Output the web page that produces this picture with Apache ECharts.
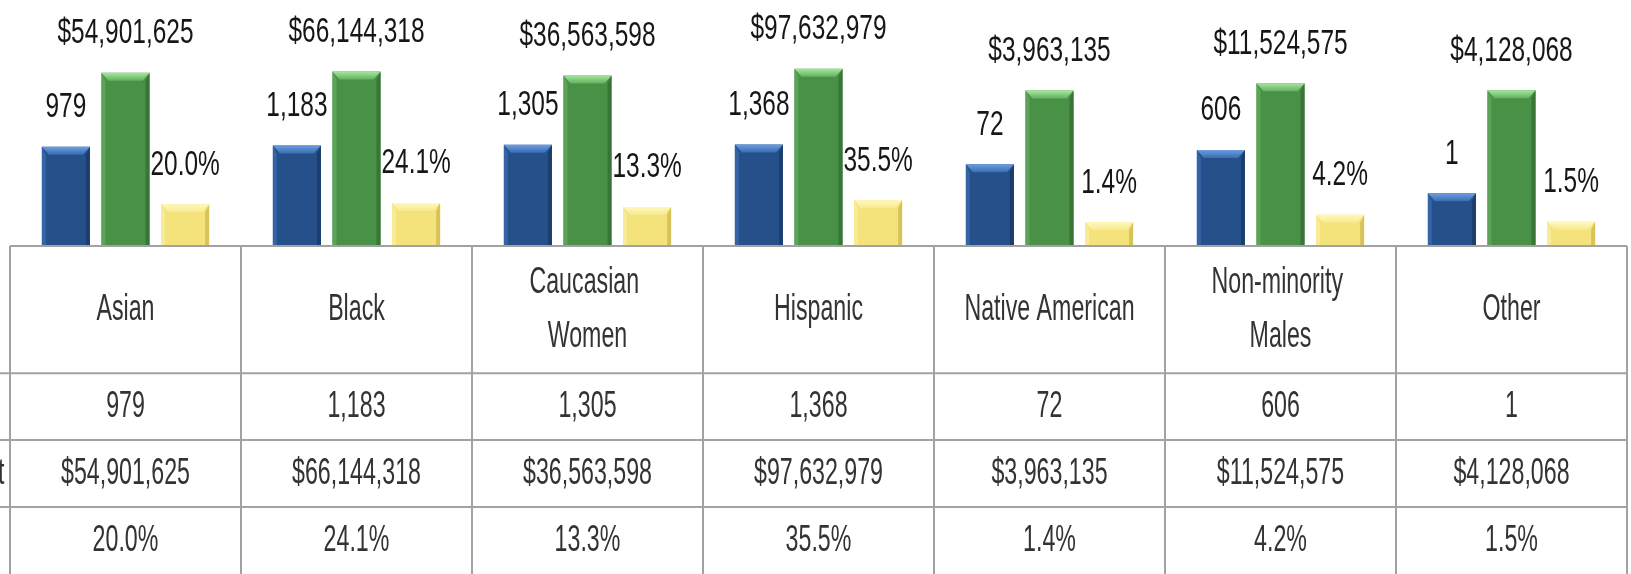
<!DOCTYPE html>
<html><head><meta charset="utf-8">
<script src="https://cdn.jsdelivr.net/npm/echarts@6/dist/echarts.min.js"></script>
<style>html,body{margin:0;padding:0;background:#fff;overflow:hidden}#c{width:1631px;height:574px}</style>
</head><body><div id="c"></div>
<script>
// ---- data ----
const categories = ['Asian', 'Black', 'Caucasian Women', 'Hispanic', 'Native American', 'Non-minority Males', 'Other'];
const counts = [979, 1183, 1305, 1368, 72, 606, 1];
const amounts = [54901625, 66144318, 36563598, 97632979, 3963135, 11524575, 4128068];
const shares = [0.200, 0.241, 0.133, 0.355, 0.014, 0.042, 0.015];
const rowLabels = ['Count', 'Total Amount', 'Percent'];

// ---- formatting ----
function commas(n) { return String(n).replace(/\B(?=(\d{3})+(?!\d))/g, ','); }
const fmtCount = v => commas(v);
const fmtAmount = v => '$' + commas(v);
const fmtShare = v => (v * 100).toFixed(1) + '%';

// ---- style constants ----
const FONT = '"Liberation Sans", Arial, sans-serif';
const Y_MIN = Math.pow(10, -3.38), Y_MAX = 1e9;
const BAR_W = 0.208, BAR_STEP = 0.258;
const ROW_EDGES = [0, 1.9, 2.9, 3.9, 4.9];
const LINE_COLOR = '#a2a2a2';
const palettes = [
  { body: '#25508a', left: '#3464a6', right: '#1b3e6e', top0: '#6c9ee0', top1: '#3a6cb2' },
  { body: '#4a9148', left: '#5aa357', right: '#387537', top0: '#a6e8a0', top1: '#62b25e' },
  { body: '#f4e27a', left: '#f8eb98', right: '#d8c359', top0: '#fff8bd', top1: '#f7e98f' }
];
const LBL_SX = 0.815, LBL_SY = 1.15;
const TS_X = 0.8, TS_Y = 1.3;

function barSeries(name, values, k, pal, fmt) {
  return {
    type: 'custom', name: name, xAxisIndex: 0, yAxisIndex: 0, clip: false,
    data: values.map((v, i) => [i, v]),
    renderItem: function (params, api) {
      const i = api.value(0), v = api.value(1);
      const band = api.size([1, 0])[0];
      const w = band * BAR_W, step = band * BAR_STEP;
      const c = api.coord([i, v]);
      const cx = c[0] + (k - 1) * step;
      const top = c[1];
      const base = params.coordSys.y + params.coordSys.height;
      const x0 = cx - w / 2, x1 = cx + w / 2;
      const b = 8, s = 4;
      return {
        type: 'group', children: [
          { type: 'rect', shape: { x: x0, y: top, width: w, height: base - top }, style: { fill: pal.body } },
          { type: 'polygon', shape: { points: [[x0, top], [x0 + s, top + b], [x0 + s, base], [x0, base]] }, style: { fill: pal.left } },
          { type: 'polygon', shape: { points: [[x1, top], [x1 - s, top + b], [x1 - s, base], [x1, base]] }, style: { fill: pal.right } },
          { type: 'polygon', shape: { points: [[x0, top], [x1, top], [x1 - 7, top + b], [x0 + 7, top + b]] },
            style: { fill: new echarts.graphic.LinearGradient(0, 0, 0, 1, [{ offset: 0, color: pal.top0 }, { offset: 1, color: pal.top1 }]) } },
          { type: 'text', x: cx, y: top - 39, scaleX: LBL_SX, scaleY: LBL_SY,
            style: { text: fmt(values[params.dataIndex]), font: '30px ' + FONT, fill: '#161616', align: 'center', verticalAlign: 'middle' } }
        ]
      };
    }
  };
}

// ---- table cells ----
const rowCenters = ROW_EDGES.slice(0, -1).map((e, i) => (e + ROW_EDGES[i + 1]) / 2);
const cells = [];
categories.forEach((c, i) => cells.push({ col: i, y: rowCenters[0], text: c, header: true }));
counts.forEach((v, i) => cells.push({ col: i, y: rowCenters[1], text: fmtCount(v) }));
amounts.forEach((v, i) => cells.push({ col: i, y: rowCenters[2], text: fmtAmount(v) }));
shares.forEach((v, i) => cells.push({ col: i, y: rowCenters[3], text: fmtShare(v) }));
// row-label column sits just left of the first category (mostly outside the picture)
rowLabels.forEach((t, r) => cells.push({ col: -1, y: rowCenters[r + 1], text: t, rowLabel: true }));

const hLines = [{ fromCol: 0, y: ROW_EDGES[0] }].concat(ROW_EDGES.slice(1, -1).map(e => ({ fromCol: -1, y: e })));

const option = {
  animation: false,
  backgroundColor: '#ffffff',
  grid: [
    { left: 10, right: 4, top: 53, height: 193 },
    { left: 10, right: 4, top: 246, height: 328 }
  ],
  xAxis: [
    { type: 'category', gridIndex: 0, data: categories, show: false },
    { type: 'category', gridIndex: 1, data: categories, boundaryGap: true,
      axisLine: { show: false }, axisTick: { show: false }, axisLabel: { show: false },
      splitLine: { show: true, interval: 0, lineStyle: { color: LINE_COLOR, width: 2 } } }
  ],
  yAxis: [
    { type: 'log', gridIndex: 0, logBase: 10, min: Y_MIN, max: Y_MAX, show: false },
    { type: 'value', gridIndex: 1, min: ROW_EDGES[0], max: ROW_EDGES[ROW_EDGES.length - 1], inverse: true, show: false }
  ],
  series: [
    barSeries('Count', counts, 0, palettes[0], fmtCount),
    barSeries('Total Amount', amounts, 1, palettes[1], fmtAmount),
    barSeries('Percent', shares, 2, palettes[2], fmtShare),
    {
      type: 'custom', name: 'tableLines', xAxisIndex: 1, yAxisIndex: 1, clip: false, silent: true,
      data: hLines.map(l => [l.fromCol, l.y]),
      renderItem: function (params, api) {
        const band = api.size([1, 0])[0];
        const p0 = api.coord([0, api.value(1)]);
        const x0 = p0[0] - band / 2 + api.value(0) * band;
        const x1 = params.coordSys.x + params.coordSys.width;
        return { type: 'line', shape: { x1: x0, y1: p0[1], x2: x1, y2: p0[1] }, style: { stroke: LINE_COLOR, lineWidth: 2 } };
      }
    },
    {
      type: 'custom', name: 'tableText', xAxisIndex: 1, yAxisIndex: 1, clip: false, silent: true,
      data: cells.map(c => [c.col, c.y]),
      renderItem: function (params, api) {
        const cell = cells[params.dataIndex];
        const band = api.size([1, 0])[0];
        const p0 = api.coord([0, api.value(1)]);
        const cx = p0[0] + api.value(0) * band;
        if (cell.rowLabel) {
          return { type: 'text', x: cx - band / 2 + 90, y: p0[1], scaleX: TS_X, scaleY: TS_Y,
            style: { text: cell.text, font: '29px ' + FONT, fill: '#333333', align: 'left', verticalAlign: 'middle' } };
        }
        return { type: 'text', x: cx, y: p0[1], scaleX: TS_X, scaleY: TS_Y,
          style: { text: cell.text, font: '29px ' + FONT, fill: '#333333', align: 'center', verticalAlign: 'middle',
            width: cell.header ? 235 : undefined, overflow: cell.header ? 'break' : 'none', lineHeight: cell.header ? 54 / TS_Y : undefined } };
      }
    }
  ]
};

const chart = echarts.init(document.getElementById('c'), null, { renderer: 'canvas' });
chart.setOption(option);
</script>
</body></html>
